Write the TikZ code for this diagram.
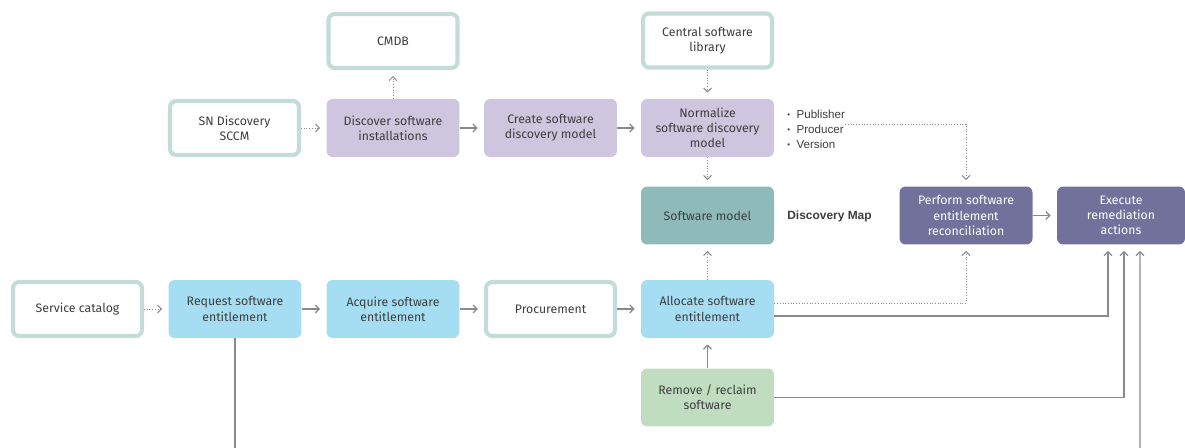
\documentclass[tikz,border=0pt]{standalone}
\usepackage{fontspec}
\setmainfont{Fira Sans}
\newfontfamily\helv{Liberation Sans}
\usepackage{tikz}
\usetikzlibrary{positioning, arrows.meta}

\definecolor{txtgray}{HTML}{3E3E3E}
\definecolor{edgeteal}{HTML}{C3DCD8}
\definecolor{lavender}{HTML}{CEC5DF}
\definecolor{modelteal}{HTML}{8EBBBA}
\definecolor{slate}{HTML}{72719B}
\definecolor{skyblue}{HTML}{A5DDF3}
\definecolor{sage}{HTML}{C0DDC0}
\definecolor{wiregray}{HTML}{8A8A8A}

\newcommand{\bul}{{\fontsize{4.5}{5}\selectfont\raisebox{0.5pt}{•}}\ \ }

\begin{document}
\begin{tikzpicture}[x=0.02cm, y=-0.02cm,
    box/.style={rounded corners=3.5pt, minimum width=2.66cm, minimum height=1.16cm,
        align=center, font=\fontsize{7}{8.6}\selectfont, text=txtgray, inner sep=1pt},
    srcbox/.style={box, draw=edgeteal, line width=2.3pt, fill=white,
        minimum width=2.58cm, minimum height=1.08cm},
    discbox/.style={box, fill=lavender},
    modelbox/.style={box, fill=modelteal},
    recbox/.style={box, fill=slate, text=white},
    entbox/.style={box, fill=skyblue},
    reclaimbox/.style={box, fill=sage},
    flow/.style={draw=wiregray, line width=0.7pt, -{Straight Barb[length=2.2pt,width=4.5pt]}, shorten >=3.5pt},
    feed/.style={draw=wiregray, line width=0.55pt, densely dotted, -{Straight Barb[length=2.2pt,width=4.5pt]}, shorten >=3.5pt},
    wire/.style={draw=wiregray, line width=0.7pt}
    ]
\useasboundingbox (0,0) rectangle (1185,448);

% discovery row
\node[srcbox] (cmdb) at (393,41) {CMDB};
\node[srcbox] (sndisc) at (234.5,128) {SN Discovery\\SCCM};
\node[discbox] (discover) at (393,128) {Discover software\\installations};
\node[discbox] (create) at (550.5,128) {Create software\\discovery model};
\node[srcbox] (central) at (707.5,40.5) {Central software\\library};
\node[discbox] (normalize) at (707.5,128) {Normalize\\software discovery\\model};
\node[anchor=west, align=left, text=txtgray, font=\helv\fontsize{6.6}{8.6}\selectfont, inner sep=0pt]
    (attrs) at (787,129) {\bul Publisher\\\bul Producer\\\bul Version};
\node[modelbox] (swmodel) at (707.5,215.5) {Software model};
\node[anchor=west, text=txtgray, font=\helv\bfseries\fontsize{6.8}{8}\selectfont, inner sep=0pt]
    (dmap) at (787,216) {Discovery Map};

% reconciliation
\node[recbox] (perform) at (966,215.5) {Perform software\\entitlement\\reconciliation};
\node[recbox, minimum width=2.56cm] (execute) at (1121,215.5) {Execute\\remediation\\actions};

% entitlement row
\node[srcbox] (catalog) at (77.5,309) {Service catalog};
\node[entbox] (request) at (235,309) {Request software\\entitlement};
\node[entbox] (acquire) at (393,309) {Acquire software\\entitlement};
\node[srcbox] (procure) at (550.5,309) {Procurement};
\node[entbox] (allocate) at (707.5,309) {Allocate software\\entitlement};
\node[reclaimbox] (reclaim) at (707.5,397.5) {Remove / reclaim\\software};

\coordinate (reqend) at (235,448);
\coordinate (exend) at (1140,448);

% connectors
\draw[feed] (sndisc) -- (discover);
\draw[flow] (discover) -- (create);
\draw[flow] (create) -- (normalize);
\draw[feed] (discover) -- (cmdb);
\draw[feed] (central) -- (normalize);
\draw[feed] (normalize) -- (swmodel);
\draw[feed] ([yshift=0.1cm]attrs.east) -| (perform.north);
\draw[flow] (perform) -- (execute);

\draw[feed] (catalog) -- (request);
\draw[flow] (request) -- (acquire);
\draw[flow] (acquire) -- (procure);
\draw[flow] (procure) -- (allocate);
\draw[feed] (allocate) -- (swmodel);
\draw[flow] (reclaim) -- (allocate);

\draw[feed] ([yshift=0.12cm]allocate.east) -| (perform.south);
\draw[flow] ([yshift=-0.14cm]allocate.east) -| ([xshift=-0.26cm]execute.south);
\draw[flow] (reclaim.east) -| ([xshift=0.06cm]execute.south);
\draw[flow] (exend) -- ([xshift=0.38cm]execute.south);
\draw[wire] (request.south) -- (reqend);
\end{tikzpicture}
\end{document}
